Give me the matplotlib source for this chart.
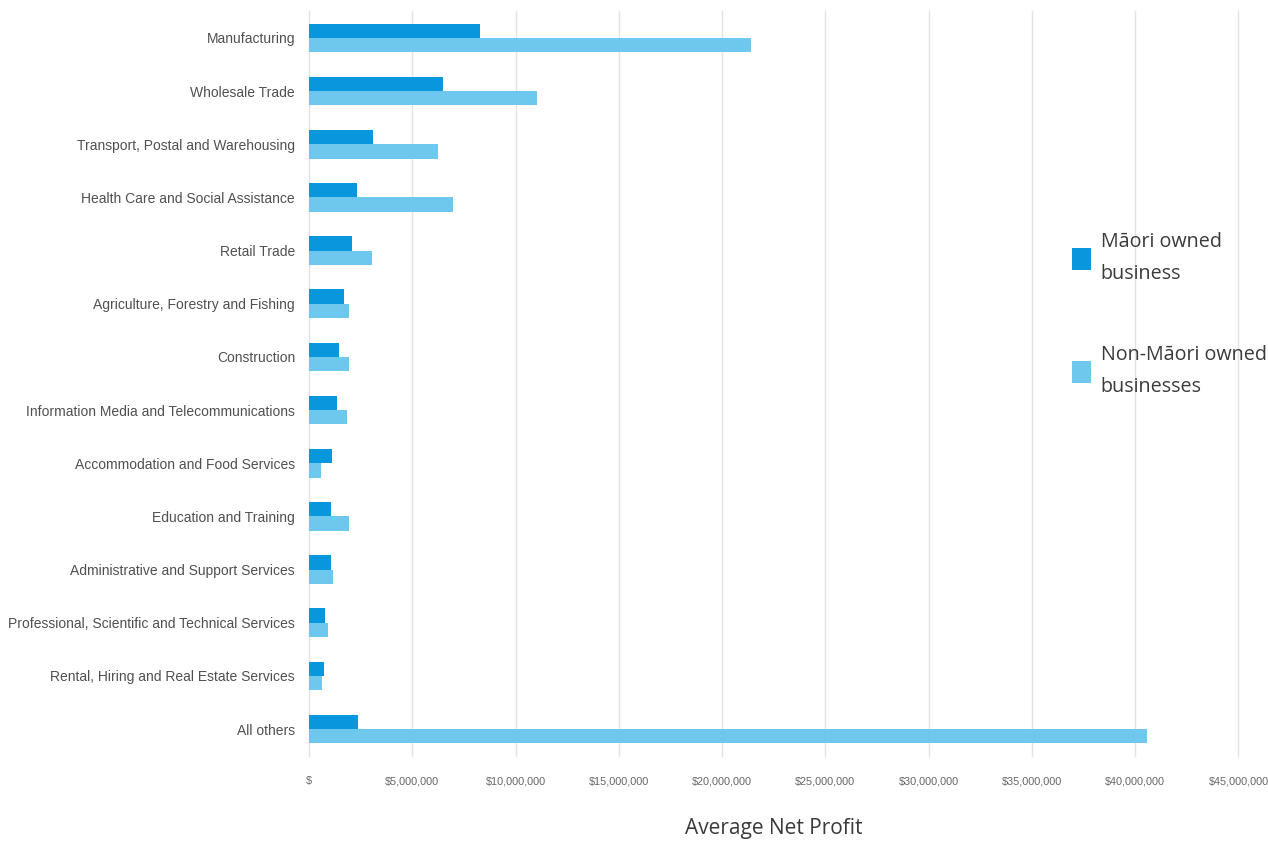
import numpy as np
import matplotlib
matplotlib.use('Agg')
import matplotlib.pyplot as plt
from matplotlib.ticker import FuncFormatter

# average net profit by industry (NZD)
industries = ['Manufacturing', 'Wholesale Trade', 'Transport, Postal and Warehousing',
              'Health Care and Social Assistance', 'Retail Trade',
              'Agriculture, Forestry and Fishing', 'Construction',
              'Information Media and Telecommunications', 'Accommodation and Food Services',
              'Education and Training', 'Administrative and Support Services',
              'Professional, Scientific and Technical Services',
              'Rental, Hiring and Real Estate Services', 'All others']
maori = [8.28e6, 6.5e6, 3.08e6, 2.31e6, 2.08e6, 1.69e6, 1.44e6,
         1.37e6, 1.11e6, 1.05e6, 1.05e6, 0.76e6, 0.73e6, 2.37e6]
non_maori = [21.4e6, 11.05e6, 6.25e6, 6.95e6, 3.05e6, 1.95e6, 1.92e6,
             1.82e6, 0.57e6, 1.95e6, 1.18e6, 0.92e6, 0.63e6, 40.55e6]

c_maori = '#0896DC'
c_non = '#6EC8EE'
sans = ['Liberation Sans', 'DejaVu Sans']
open_sans = ['Open Sans', 'DejaVu Sans']

fig = plt.figure(figsize=(12.68, 8.42), dpi=100)
ax = fig.add_axes([0.2437, 0.1026, 0.733, 0.8839])

y = np.arange(len(industries))
h = 0.27
ax.barh(y - h / 2, maori, height=h, color=c_maori, label='Māori owned\nbusiness', zorder=3)
ax.barh(y + h / 2, non_maori, height=h, color=c_non, label='Non-Māori owned\nbusinesses', zorder=3)

ax.set_xlim(0, 45e6)
ax.set_ylim(len(industries) - 0.5, -0.5)
ax.set_xticks(np.arange(0, 45e6 + 1, 5e6))
ax.xaxis.set_major_formatter(FuncFormatter(lambda v, p: '$' if v == 0 else '${:,.0f}'.format(v)))
ax.set_yticks(y)
ax.set_yticklabels(industries, family=sans, fontsize=10, color='#505050')
for t in ax.get_xticklabels():
    t.set_family(sans)
    t.set_fontsize(7.8)
    t.set_color('#666666')
ax.tick_params(axis='x', length=0, pad=15)
ax.tick_params(axis='y', length=0, pad=10)

for s in ax.spines.values():
    s.set_visible(False)
ax.grid(axis='x', color='#e3e3e3', linewidth=1, zorder=0)
for gl in ax.get_xgridlines():
    gl.set_clip_on(False)

ax.set_xlabel('Average Net Profit', family=open_sans, fontsize=15,
              color='#3a3a3a', labelpad=23)

leg = ax.legend(loc='upper left', bbox_to_anchor=(1072 / 1268, 1 - 232 / 842),
                bbox_transform=fig.transFigure, frameon=False,
                prop={'family': open_sans, 'size': 14.2},
                labelcolor='#3a3a3a', borderpad=0, borderaxespad=0,
                handlelength=0.95, handleheight=1.3, handletextpad=0.5,
                labelspacing=3.1)
for t in leg.get_texts():
    t.set_linespacing(1.8)

fig.savefig('out.png', dpi=100, facecolor='white')
